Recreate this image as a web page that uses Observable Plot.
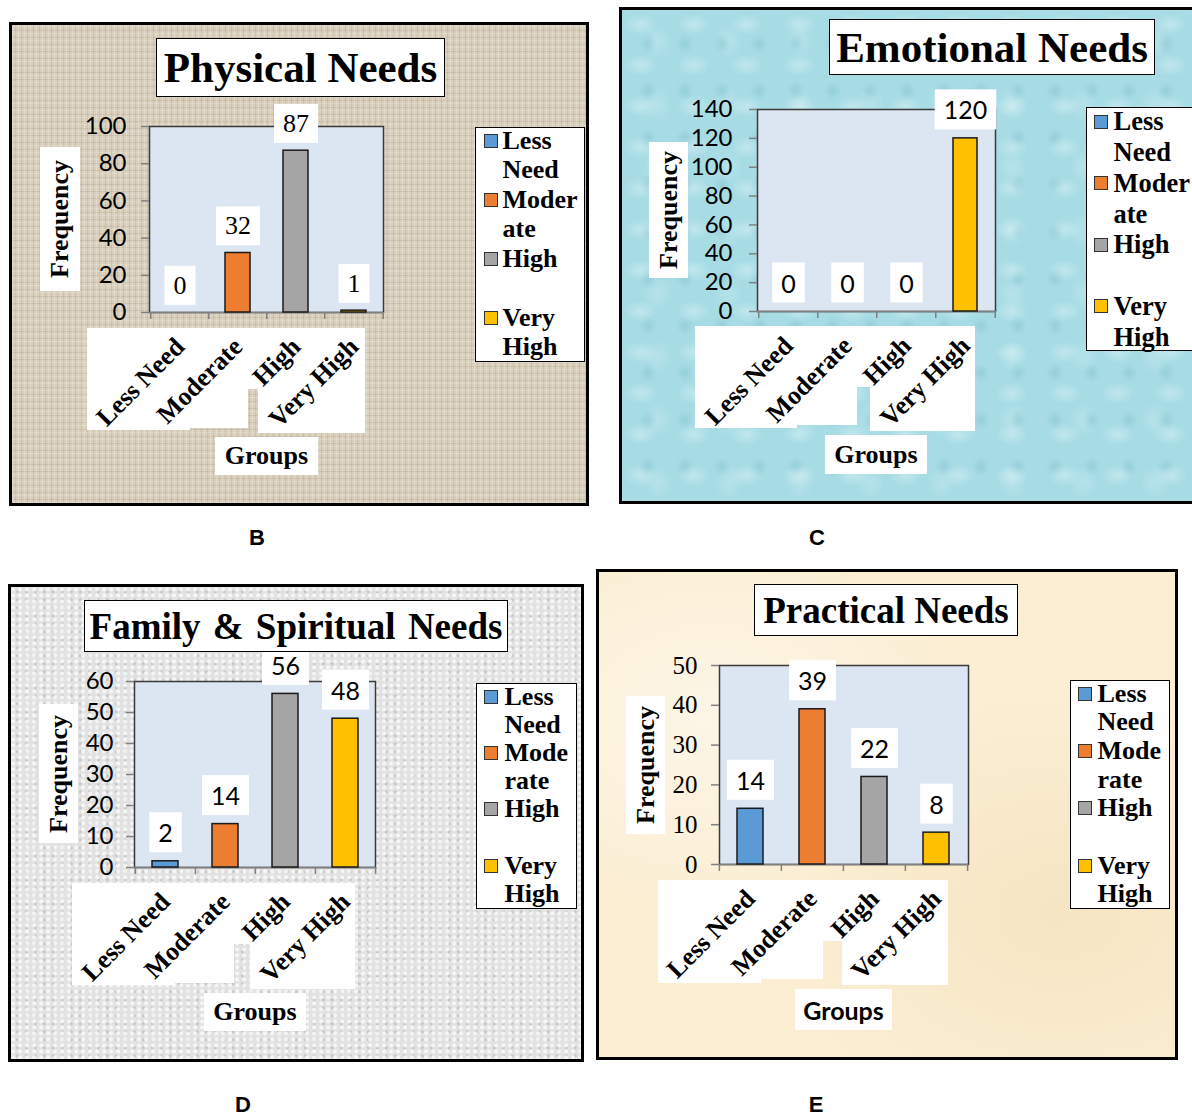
<!DOCTYPE html>
<html><head><meta charset="utf-8">
<script src="https://cdn.jsdelivr.net/npm/d3@7"></script>
<script src="https://cdn.jsdelivr.net/npm/@observablehq/plot@0.6"></script>
<style>
html,body{margin:0;padding:0;background:#fff;}
#page{position:relative;width:1192px;height:1118px;overflow:hidden;background:#fff;}
.panel{position:absolute;box-sizing:border-box;border:3px solid #000;}
.wbox{position:absolute;background:#fff;}
.title{position:absolute;box-sizing:border-box;background:#fff;border:1.5px solid #000;font-family:"Liberation Serif","Times New Roman",serif;font-weight:bold;display:flex;align-items:center;justify-content:center;white-space:nowrap;color:#000;}
.lab{position:absolute;background:#fff;display:flex;align-items:center;justify-content:center;white-space:nowrap;font-weight:bold;color:#000;}
.legend{position:absolute;box-sizing:border-box;background:#fff;border:1.5px solid #000;}
.lline{position:absolute;white-space:nowrap;font-family:"Liberation Serif","Times New Roman",serif;font-weight:bold;color:#000;}
.sq{position:absolute;width:14px;height:14px;box-sizing:border-box;border:1.5px solid #333;}
.letter{position:absolute;font-family:"Liberation Sans",Arial,sans-serif;font-weight:bold;font-size:22px;color:#000;transform:translate(-50%,-50%);}
.texB{background-color:#d9cfbb;background-image:repeating-linear-gradient(90deg,rgba(255,255,255,.20) 0 1px,rgba(0,0,0,0) 1px 3px,rgba(120,100,70,.12) 3px 4px,rgba(0,0,0,0) 4px 6px),repeating-linear-gradient(0deg,rgba(255,255,255,.18) 0 1px,rgba(0,0,0,0) 1px 3px,rgba(110,90,60,.12) 3px 4px,rgba(0,0,0,0) 4px 7px);}
.texC{background-color:#a7dce5;background-image:radial-gradient(ellipse 45% 38% at 35% 35%,rgba(255,255,255,.30),rgba(255,255,255,0) 70%),radial-gradient(ellipse 35% 30% at 70% 72%,rgba(60,140,160,.16),rgba(60,140,160,0) 70%),radial-gradient(ellipse 30% 40% at 50% 50%,rgba(255,255,255,.18),rgba(255,255,255,0) 70%);background-size:53px 41px,37px 47px,71px 63px;}
.texD{background-color:#e2e2e2;background-image:radial-gradient(circle at 30% 40%,rgba(255,255,255,.7) 0 1.5px,rgba(255,255,255,0) 2.5px),radial-gradient(circle at 70% 60%,rgba(150,150,150,.35) 0 1px,rgba(150,150,150,0) 2px);background-size:7px 6px,9px 8px;}
.texE{background-color:#fbeed3;background-image:radial-gradient(ellipse at 20% 30%,rgba(255,255,255,.45),rgba(255,255,255,0) 40%),radial-gradient(ellipse at 80% 70%,rgba(235,212,165,.35),rgba(235,212,165,0) 45%);}
</style>
</head><body><div id="page"></div>
<script>
// ---- data ----
const groups = ["Less Need", "Moderate", "High", "Very High"];
const groupColors = ["#5b9bd5", "#ed7d31", "#a5a5a5", "#ffc000"];
const physicalValues = [0, 32, 87, 1];
const emotionalValues = [0, 0, 0, 120];
const familyValues = [2, 14, 56, 48];
const practicalValues = [14, 39, 22, 8];
const physicalTicks = [0, 20, 40, 60, 80, 100];
const emotionalTicks = [0, 20, 40, 60, 80, 100, 120, 140];
const familyTicks = [0, 10, 20, 30, 40, 50, 60];
const practicalTicks = [0, 10, 20, 30, 40, 50];
const titles = ["Physical Needs", "Emotional Needs", "Family & Spiritual Needs", "Practical Needs"];
const panelLetters = ["B", "C", "D", "E"];
const yAxisTitle = "Frequency";
const xAxisTitle = "Groups";
const legendLinesModer = [["Less", "Need"], ["Moder", "ate"], ["High", ""], ["Very", "High"]];
const legendLinesMode = [["Less", "Need"], ["Mode", "rate"], ["High", ""], ["Very", "High"]];

const SERIF = '"Liberation Serif","Times New Roman",serif';
const SANS = 'Lato,"Liberation Sans",Arial,sans-serif';

// ---- layout ----
const panels = [
  {tex:"texB", values:physicalValues, ticks:physicalTicks, title:titles[0], letter:panelLetters[0], letterPos:[257,538],
   panel:[9,22,589,506], frame:[149,126,383,312], pad:0.57,
   titleBox:[156,38,445,97], titleSize:43,
   freq:[40,147,80,291], groupsBox:[215,437,318,475], groupsFont:SERIF,
   xBoxes:[[87,328,365,389],[87,389,190,430],[190,389,248,428],[258,389,365,433]],
   legend:[475,127,585,362], legendLines:legendLinesModer, sqX:484, txX:503, first:141, lineH:29.5, legendSize:26,
   tickFont:SANS, tickSize:24, tickPad:15, labelFont:SERIF, labelSize:26},
  {tex:"texC", values:emotionalValues, ticks:emotionalTicks, title:titles[1], letter:panelLetters[1], letterPos:[817,538],
   panel:[619,7,1210,504], frame:[757,109,995,311], pad:0.6,
   titleBox:[829,19,1155,75], titleSize:43,
   freq:[649,142,688,278], groupsBox:[825,435,927,474], groupsFont:SERIF,
   xBoxes:[[695,326,975,387],[695,387,797,428],[797,387,857,425],[870,387,975,431]],
   legend:[1086,107,1200,351], legendLines:legendLinesModer, sqX:1094, txX:1114, first:122, lineH:30.8, legendSize:26.5,
   tickFont:SANS, tickSize:24, tickPad:17, labelFont:SANS, labelSize:25},
  {tex:"texD", values:familyValues, ticks:familyTicks, title:titles[2], letter:panelLetters[2], letterPos:[243,1105],
   panel:[8,584,584,1062], frame:[134,681,375,867], pad:0.57,
   titleBox:[84,600,508,652], titleSize:37,
   freq:[39,704,78,843], groupsBox:[204,993,306,1031], groupsFont:SERIF,
   xBoxes:[[72,883,355,944],[72,944,175,985],[175,944,234,983],[250,944,355,989]],
   legend:[476,683,577,909], legendLines:legendLinesMode, sqX:484, txX:505, first:697, lineH:28.2, legendSize:26,
   tickFont:SANS, tickSize:24, tickPad:13, labelFont:SANS, labelSize:25},
  {tex:"texE", values:practicalValues, ticks:practicalTicks, title:titles[3], letter:panelLetters[3], letterPos:[816,1105],
   panel:[596,569,1178,1060], frame:[719,665,968,864], pad:0.58,
   titleBox:[754,584,1018,636], titleSize:37,
   freq:[626,696,665,834], groupsBox:[795,989,892,1030], groupsFont:SANS,
   xBoxes:[[658,880,948,941],[658,941,761,983],[761,941,823,979],[842,941,948,985]],
   legend:[1070,680,1170,909], legendLines:legendLinesMode, sqX:1078, txX:1098, first:694, lineH:28.7, legendSize:26,
   tickFont:SERIF, tickSize:25, tickPad:14, labelFont:SANS, labelSize:25}
];

const page = document.getElementById("page");
const px = v => v + "px";
function box(cls, r, parent) {
  const d = document.createElement("div");
  d.className = cls;
  Object.assign(d.style, {left:px(r[0]), top:px(r[1]), width:px(r[2]-r[0]), height:px(r[3]-r[1])});
  parent.appendChild(d);
  return d;
}

panels.forEach(cfg => {
  box("panel " + cfg.tex, cfg.panel, page);
  cfg.xBoxes.forEach(r => box("wbox", r, page));

  const [x0, y0, x1, y1] = cfg.panel;
  const [fx0, fy0, fx1, fy1] = cfg.frame;
  const step = (fx1 - fx0) / groups.length;
  const data = groups.map((g, i) => ({g, v: cfg.values[i]}));
  const axisStroke = "#808080";

  const svg = Plot.plot({
    width: x1 - x0, height: y1 - y0,
    marginLeft: fx0 - x0, marginTop: fy0 - y0, marginRight: x1 - fx1, marginBottom: y1 - fy1,
    style: {background: "transparent", color: "#000", fontFamily: cfg.tickFont, overflow: "visible", maxWidth: "none"},
    x: {domain: groups, paddingInner: cfg.pad, paddingOuter: cfg.pad / 2, align: 0.5, axis: null},
    y: {domain: [0, cfg.ticks[cfg.ticks.length - 1]], axis: null},
    color: {domain: groups, range: groupColors},
    marks: [
      Plot.frame({fill: "#dce6f2", stroke: "#3a3a3a", strokeWidth: 1.5}),
      Plot.ruleX(groups, {x: d => d, dx: -step / 2, insetTop: fy1 - fy0, insetBottom: -7, stroke: axisStroke, strokeWidth: 1.5}),
      Plot.ruleX([groups[groups.length - 1]], {x: d => d, dx: step / 2, insetTop: fy1 - fy0, insetBottom: -7, stroke: axisStroke, strokeWidth: 1.5}),
      Plot.axisY({ticks: cfg.ticks, tickSize: 8, tickPadding: cfg.tickPad, label: null, fontSize: cfg.tickSize, fontFamily: cfg.tickFont, stroke: axisStroke, strokeWidth: 1.5, fill: "#000"}),
      Plot.ruleY([0], {stroke: axisStroke, strokeWidth: 1.5}),
      Plot.barY(data, {x: "g", y: "v", fill: "g", stroke: "#1a1a1a", strokeWidth: 1.5}),
      Plot.text(data, {x: "g", y: "v", text: d => String(d.v), dy: -27, fontSize: cfg.labelSize, fontFamily: cfg.labelFont, fontVariant: "lining-nums", fill: "#000"}),
      Plot.text(groups, {x: d => d, frameAnchor: "bottom", text: d => d, rotate: -45, textAnchor: "end", lineAnchor: "middle", dx: 0, dy: 30, fontSize: 26, fontWeight: "bold", fontFamily: SERIF, fill: "#000"})
    ]
  });
  Object.assign(svg.style, {position: "absolute", left: px(x0), top: px(y0)});
  page.appendChild(svg);

  // white boxes behind data labels
  const labelTexts = new Set([...svg.querySelectorAll('[font-variant="lining-nums"] text')]);
  labelTexts.forEach(t => {
    const b = t.getBBox();
    const r = document.createElementNS("http://www.w3.org/2000/svg", "rect");
    r.setAttribute("x", b.x - 9);
    r.setAttribute("y", b.y - 5);
    r.setAttribute("width", b.width + 18);
    r.setAttribute("height", b.height + 10);
    r.setAttribute("fill", "#fff");
    r.setAttribute("stroke", "none");
    const tr = t.getAttribute("transform");
    if (tr) r.setAttribute("transform", tr);
    t.parentNode.insertBefore(r, t);
  });

  // title
  const tb = box("title", cfg.titleBox, page);
  tb.style.fontSize = px(cfg.titleSize);
  tb.textContent = cfg.title;
  if (cfg.title.includes("&")) tb.style.wordSpacing = "3px";

  // y axis title
  const fq = box("lab", cfg.freq, page);
  const fs = document.createElement("span");
  fs.textContent = yAxisTitle;
  Object.assign(fs.style, {transform: "rotate(-90deg)", fontFamily: SERIF, fontSize: "26px", display: "inline-block"});
  fq.appendChild(fs);

  // x axis title
  const gb = box("lab", cfg.groupsBox, page);
  gb.textContent = xAxisTitle;
  Object.assign(gb.style, {fontFamily: cfg.groupsFont, fontSize: cfg.groupsFont === SANS ? "25px" : "26px"});

  // legend
  const lg = box("legend", cfg.legend, page);
  const [lx0, ly0] = cfg.legend;
  cfg.legendLines.forEach((lines, i) => {
    const c0 = cfg.first + 2 * i * cfg.lineH;
    const sq = document.createElement("div");
    sq.className = "sq";
    Object.assign(sq.style, {left: px(cfg.sqX - lx0 - 1.5), top: px(c0 - 7 - ly0 - 1.5), background: groupColors[i]});
    lg.appendChild(sq);
    lines.forEach((s, k) => {
      if (!s) return;
      const l = document.createElement("div");
      l.className = "lline";
      l.textContent = s;
      const c = c0 + k * cfg.lineH;
      const lh = cfg.legendSize * 1.15;
      Object.assign(l.style, {left: px(cfg.txX - lx0 - 1.5), top: px(c - lh / 2 - ly0 - 1.5), lineHeight: px(lh), fontSize: px(cfg.legendSize)});
      lg.appendChild(l);
    });
  });

  // panel letter
  const le = document.createElement("div");
  le.className = "letter";
  le.textContent = cfg.letter;
  Object.assign(le.style, {left: px(cfg.letterPos[0]), top: px(cfg.letterPos[1])});
  page.appendChild(le);
});
</script>
</body></html>
